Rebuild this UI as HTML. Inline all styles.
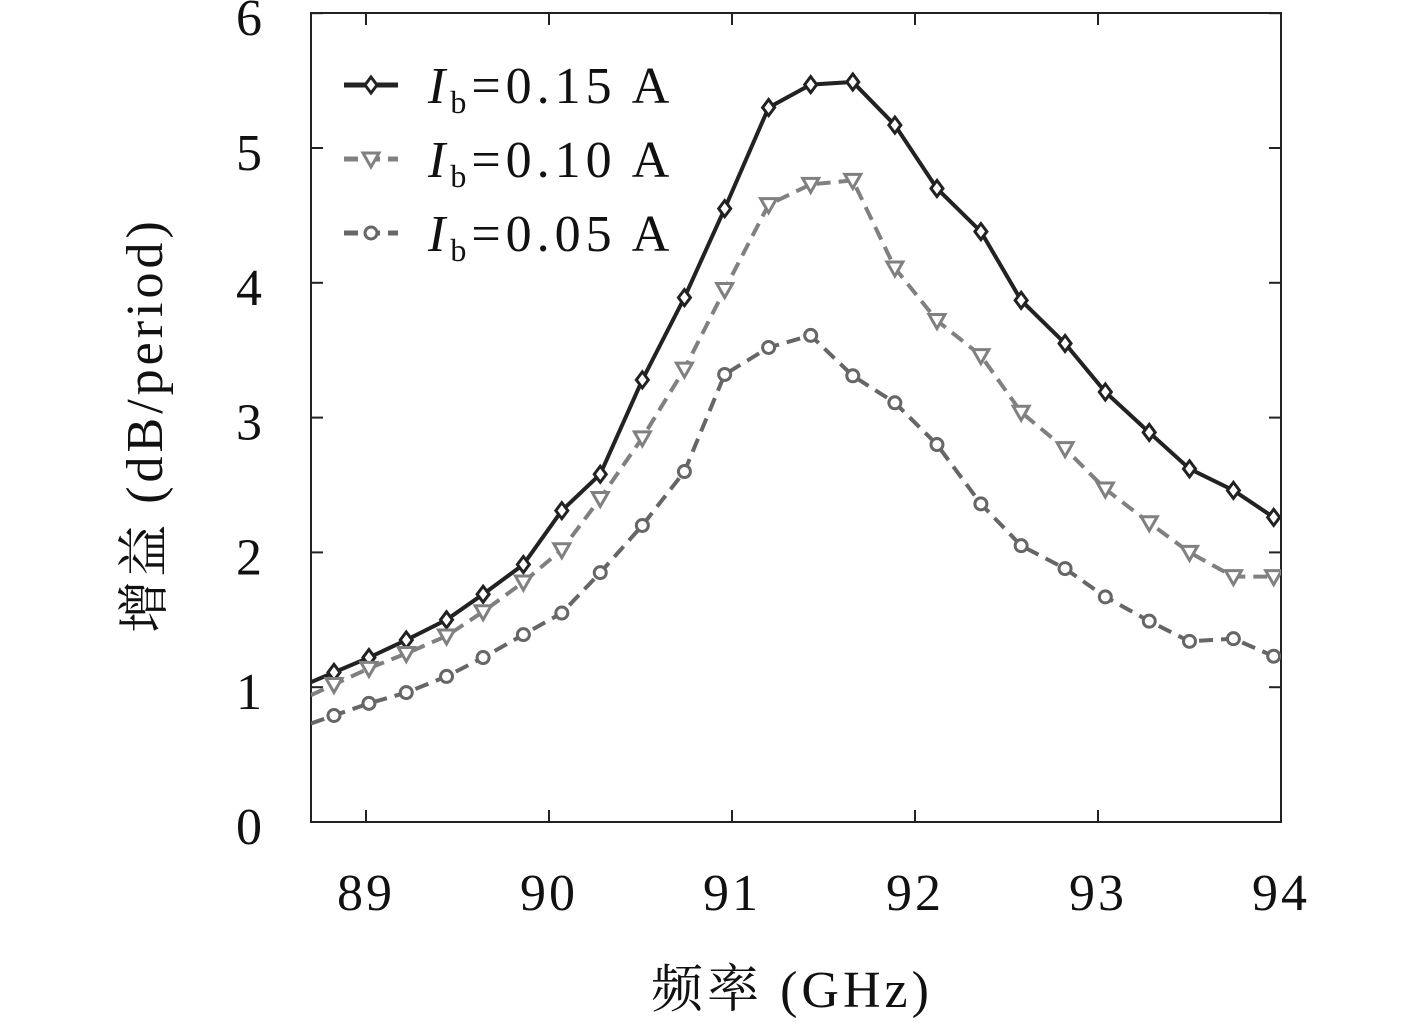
<!DOCTYPE html>
<html><head><meta charset="utf-8"><style>
html,body{margin:0;padding:0;background:#fff;}
svg{display:block;}
text{font-family:"Liberation Serif","Noto Serif CJK SC",serif;fill:#111;}
</style></head><body>
<svg id="chart" width="1417" height="1030" xmlns="http://www.w3.org/2000/svg">
<defs><clipPath id="clip"><rect x="311" y="13" width="970" height="809"/></clipPath></defs>
<rect x="311" y="13" width="970" height="809" fill="none" stroke="#222" stroke-width="2"/>
<g id="axes"></g>
<g id="series" clip-path="url(#clip)"></g>
<g id="legend"></g>
<text x="792" y="1007" font-size="52" letter-spacing="4" text-anchor="middle">频率 (GHz)</text>
<text transform="translate(162,425) rotate(-90)" font-size="52" letter-spacing="4" text-anchor="middle">增益 (dB/period)</text>
</svg>
<script>
const freqs=[88.825,89.016,89.22,89.44,89.64,89.86,90.07,90.28,90.51,90.74,90.96,91.20,91.43,91.66,91.89,92.12,92.36,92.58,92.82,93.04,93.28,93.50,93.74,93.96];
const gain015=[1.11,1.22,1.35,1.50,1.69,1.91,2.31,2.58,3.28,3.89,4.55,5.30,5.47,5.49,5.17,4.70,4.38,3.87,3.55,3.19,2.89,2.62,2.46,2.26];
const gain010=[1.02,1.14,1.25,1.38,1.56,1.78,2.02,2.40,2.85,3.36,3.95,4.58,4.73,4.76,4.11,3.72,3.46,3.04,2.77,2.47,2.22,2.00,1.82,1.82];
const gain005=[0.79,0.88,0.96,1.08,1.22,1.39,1.55,1.85,2.20,2.60,3.32,3.52,3.61,3.31,3.11,2.80,2.36,2.05,1.88,1.67,1.49,1.34,1.36,1.23];
const xTicks=[89,90,91,92,93,94];
const yTicks=[0,1,2,3,4,5,6];
const legendLabels=["0.15 A","0.10 A","0.05 A"];
const NS="http://www.w3.org/2000/svg";
const X=f=>366+(f-89)*183;
const Y=v=>822-v*134.8;
function mk(tag,attrs,parent){const e=document.createElementNS(NS,tag);for(const k in attrs)e.setAttribute(k,attrs[k]);parent.appendChild(e);return e;}
const axes=document.getElementById('axes');
xTicks.forEach(t=>{
  const x=X(t);
  const l=mk('line',{x1:x,x2:x,y1:822,y2:810,stroke:'#222','stroke-width':2},axes);
  
  
  const l2=mk('line',{x1:x,x2:x,y1:13,y2:25,stroke:'#222','stroke-width':2},axes);
  
  
  const tx=mk('text',{x:x,y:910,'font-size':52,'letter-spacing':3,'text-anchor':'middle'},axes);
  tx.textContent=t;
  
  
});
yTicks.forEach(t=>{
  const y=Y(t);
  const l=mk('line',{x1:311,x2:323,y1:y,y2:y,stroke:'#222','stroke-width':2},axes);
  
  
  const l2=mk('line',{x1:1269,x2:1281,y1:y,y2:y,stroke:'#222','stroke-width':2},axes);
  
  
  const tx=mk('text',{x:249,y:y+22,'font-size':52,'text-anchor':'middle'},axes);
  tx.textContent=t;
  
  
});
function marker(kind,x,y,color,parent){
  let e;
  if(kind==='diamond') e=mk('polygon',{points:`${x},${y-8} ${x+6},${y} ${x},${y+8} ${x-6},${y}`,fill:'#fff',stroke:color,'stroke-width':3},parent);
  else if(kind==='tri') e=mk('polygon',{points:`${x-8},${y-6} ${x+8},${y-6} ${x},${y+8}`,fill:'#fff',stroke:color,'stroke-width':3},parent);
  else e=mk('circle',{cx:x,cy:y,r:6,fill:'#fff',stroke:color,'stroke-width':3},parent);
  
  
}
const series=[
 {d:gain015,c:'#222',dash:'',m:'diamond',n:'series-0-15a'},
 {d:gain010,c:'#808080',dash:'14,8',m:'tri',n:'series-0-10a'},
 {d:gain005,c:'#666',dash:'14,8',m:'circle',n:'series-0-05a'}];
const sg=document.getElementById('series');
series.forEach(s=>{
  const g=mk('g',{},sg);
  
  
  const pts=s.d.map((v,i)=>X(freqs[i])+','+Y(v));
  const first=X(freqs[0]),slope=(Y(s.d[1])-Y(s.d[0]))/(X(freqs[1])-first);
  pts.unshift(311+','+(Y(s.d[0])+slope*(311-first)));
  const p=mk('polyline',{points:pts.join(' '),fill:'none',stroke:s.c,'stroke-width':4,'stroke-dasharray':s.dash},g);
  
  
  s.d.forEach((v,i)=>marker(s.m,X(freqs[i]),Y(v),s.c,g));
});
const lg=document.getElementById('legend');
series.forEach((s,i)=>{
  const y=85+i*74;
  const g=mk('g',{},lg);
  
  
  mk('line',{x1:344,x2:398,y1:y,y2:y,stroke:s.c,'stroke-width':5,'stroke-dasharray':s.dash?'14,8':''},g);
  marker(s.m,371,y,s.c,g);
  const t=mk('text',{x:428,y:y+18,'font-size':52,'letter-spacing':5},g);
  t.innerHTML='<tspan font-style="italic">I</tspan><tspan font-size="32" dy="10">b</tspan><tspan dy="-10">=</tspan>'+legendLabels[i];
});
</script>
</body></html>
